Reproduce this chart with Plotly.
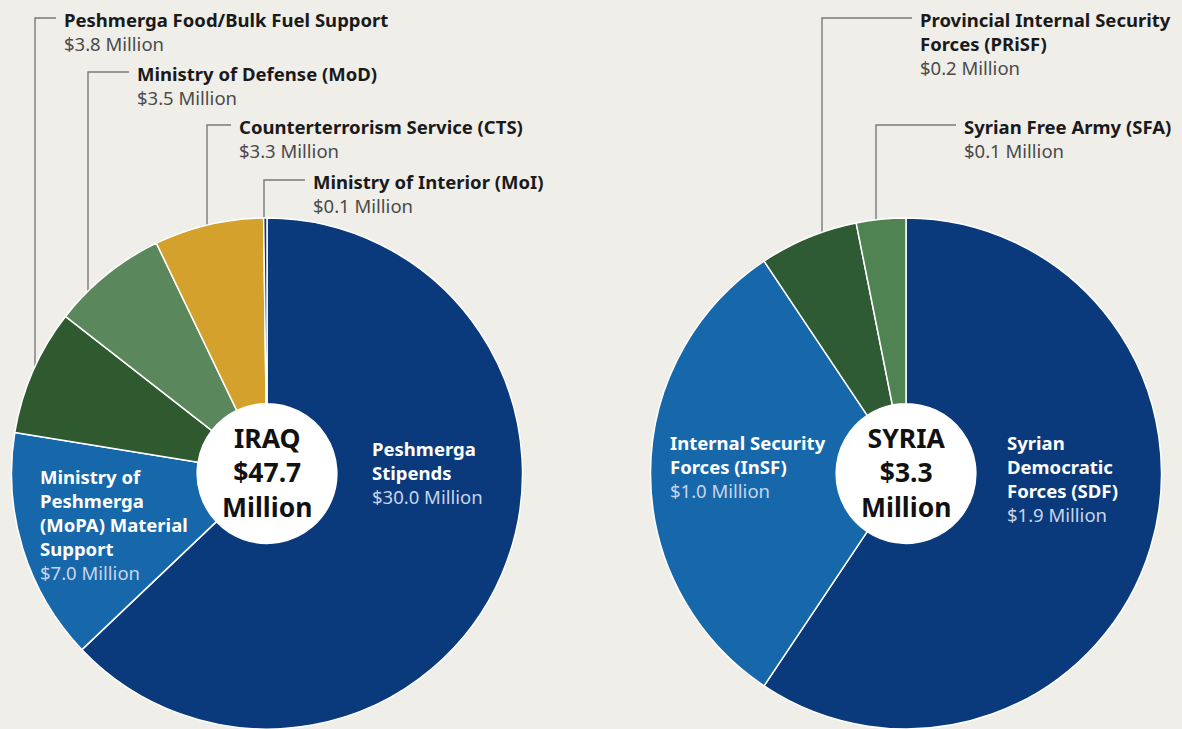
import math
import plotly.graph_objects as go

# ---------------- data ----------------
iraq_labels = ["Peshmerga Stipends", "Ministry of Peshmerga (MoPA) Material Support",
               "Peshmerga Food/Bulk Fuel Support", "Ministry of Defense (MoD)",
               "Counterterrorism Service (CTS)", "Ministry of Interior (MoI)"]
iraq_values = [30.0, 7.0, 3.8, 3.5, 3.3, 0.1]
iraq_total = 47.7

syria_labels = ["Syrian Democratic Forces (SDF)", "Internal Security Forces (InSF)",
                "Provincial Internal Security Forces (PRiSF)", "Syrian Free Army (SFA)"]
syria_values = [1.9, 1.0, 0.2, 0.1]
syria_total = 3.3

# ---------------- styling ----------------
W, H = 1182, 729
BG = "#efeee9"
FONT = "Noto Sans"
NAVY = "#0b3a7c"
MIDBLUE = "#1768ab"
DKGREEN = "#2f5a30"
LTGREEN = "#5a885c"
GOLD = "#d4a22c"
iraq_colors = [NAVY, MIDBLUE, DKGREEN, LTGREEN, GOLD, NAVY]
syria_colors = [NAVY, MIDBLUE, "#2e5a34", "#4f8352"]

R = 256
HOLE_R = 70
iraq_c = (267, 474)
syria_c = (906, 474)
TXT = 18.5


def px(x):
    return x / W


def py(y):
    return 1 - y / H


def money(v):
    return "$%.1f Million" % v


fig = go.Figure()
for labels, values, colors, c in [(iraq_labels, iraq_values, iraq_colors, iraq_c),
                                  (syria_labels, syria_values, syria_colors, syria_c)]:
    fig.add_trace(go.Pie(
        labels=labels, values=values, sort=False, direction="clockwise", rotation=0,
        hole=HOLE_R / R,
        marker=dict(colors=colors, line=dict(color="white", width=1.5)),
        textinfo="none", hoverinfo="label+value", showlegend=False,
        domain=dict(x=[px(c[0] - R), px(c[0] + R)], y=[max(0, py(c[1] + R)), py(c[1] - R)]),
    ))

shapes = []
annotations = []

# white centre discs
for c in (iraq_c, syria_c):
    shapes.append(dict(type="circle", xref="paper", yref="paper", layer="below",
                       x0=px(c[0] - HOLE_R), x1=px(c[0] + HOLE_R),
                       y0=py(c[1] + HOLE_R), y1=py(c[1] - HOLE_R),
                       fillcolor="white", line=dict(width=0)))

# centre totals
for name, total, c in (("IRAQ", iraq_total, iraq_c), ("SYRIA", syria_total, syria_c)):
    annotations.append(dict(xref="paper", yref="paper", x=px(c[0]), y=py(c[1] - 2),
                            xanchor="center", yanchor="middle", showarrow=False,
                            text="<b>%s<br>$%.1f<br>Million</b>" % (name, total),
                            font=dict(family=FONT, size=26.5, color="#111111")))


def callout(line_x, top_y, text_x, name_lines, value, center):
    cx, cy = center
    y_end = cy - math.sqrt(R ** 2 - (line_x - cx) ** 2) + 8
    shapes.append(dict(type="path", xref="paper", yref="paper", layer="below",
                       path="M %f,%f L %f,%f L %f,%f" % (px(line_x), py(y_end), px(line_x), py(top_y),
                                                        px(text_x - 6), py(top_y)),
                       line=dict(color="#7a7a7a", width=1.4)))
    txt = "<br>".join("<b>%s</b>" % s for s in name_lines)
    txt += "<br><span style='color:#4a4a4a'>%s</span>" % money(value)
    annotations.append(dict(xref="paper", yref="paper", x=px(text_x), y=py(top_y - 13),
                            xanchor="left", yanchor="top", align="left", showarrow=False,
                            text=txt, font=dict(family=FONT, size=TXT, color="#1a1a1a")))


# Iraq outside call-outs
callout(35, 18, 62, ["Peshmerga Food/Bulk Fuel Support"], iraq_values[2], iraq_c)
callout(88, 72, 135, ["Ministry of Defense (MoD)"], iraq_values[3], iraq_c)
callout(207, 125, 237, ["Counterterrorism Service (CTS)"], iraq_values[4], iraq_c)
callout(264, 180, 311, ["Ministry of Interior (MoI)"], iraq_values[5], iraq_c)
# Syria outside call-outs
callout(822, 18, 918, ["Provincial Internal Security", "Forces (PRiSF)"], syria_values[2], syria_c)
callout(876, 125, 962, ["Syrian Free Army (SFA)"], syria_values[3], syria_c)


def inside(x, top_y, name_lines, value):
    txt = "<br>".join("<b>%s</b>" % s for s in name_lines)
    txt += "<br><span style='color:#c9d5ea'>%s</span>" % money(value)
    annotations.append(dict(xref="paper", yref="paper", x=px(x), y=py(top_y),
                            xanchor="left", yanchor="top", align="left", showarrow=False,
                            text=txt, font=dict(family=FONT, size=TXT, color="white")))


inside(370, 434, ["Peshmerga", "Stipends"], iraq_values[0])
inside(38, 462, ["Ministry of", "Peshmerga", "(MoPA) Material", "Support"], iraq_values[1])
inside(668, 428, ["Internal Security", "Forces (InSF)"], syria_values[1])
inside(1005, 428, ["Syrian", "Democratic", "Forces (SDF)"], syria_values[0])

fig.update_layout(width=W, height=H, margin=dict(l=0, r=0, t=0, b=0),
                  paper_bgcolor=BG, plot_bgcolor=BG,
                  shapes=shapes, annotations=annotations,
                  font=dict(family=FONT))
fig.write_html("out.html", config={"displayModeBar": False},
               post_script="document.body.style.margin='0';document.body.style.overflow='hidden';")
